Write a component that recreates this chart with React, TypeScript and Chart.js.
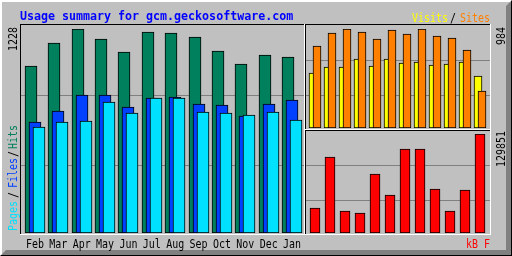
import { useEffect, useRef } from "react";
import { Chart, registerables } from "chart.js";

Chart.register(...registerables);

// ---------------- data ----------------
const months = ["Feb", "Mar", "Apr", "May", "Jun", "Jul", "Aug", "Sep", "Oct", "Nov", "Dec", "Jan"];
const hits = [1005, 1144, 1228, 1168, 1090, 1210, 1204, 1180, 1096, 1017, 1071, 1059];
const files = [668, 734, 831, 831, 758, 813, 819, 777, 771, 704, 777, 801];
const pages = [638, 668, 674, 789, 722, 813, 813, 728, 722, 710, 728, 680];
const visits = [547, 606, 606, 686, 616, 686, 646, 656, 626, 636, 656, 517];
const sites = [815, 944, 984, 954, 885, 974, 934, 984, 915, 895, 775, 368];
const kbytes = [32790, 99682, 28855, 26232, 77385, 49841, 110174, 110174, 57710, 28855, 56399, 129851];

const titleText = "Usage summary for gcm.geckosoftware.com";
const legendLeft = ["Pages", "/", "Files", "/", "Hits"];
const legendTop = ["Visits", "/", "Sites"];
const legendBottom = "kB F";

// ---------------- styles / layout ----------------
const W = 512;
const H = 256;
const GREY = "#c0c0c0";
const DKGREY = "#808080";
const HIT_C = "#00805c";
const FILE_C = "#0040ff";
const PAGE_C = "#00e0ff";
const VISIT_C = "#ffff00";
const SITE_C = "#ff8000";
const KB_C = "#ff0000";
const TITLE_C = "#0000ff";

const MAIN_AREA = { left: 23.32, right: 303.68, top: 29, bottom: 233 };
const SIDE_X = { left: 307.5, right: 487.5 };
const VS_Y = { top: 29, bottom: 128 };
const KB_Y = { top: 134, bottom: 233 };

const MAIN_SLOT = (MAIN_AREA.right - MAIN_AREA.left) / 12;
const SIDE_SLOT = (SIDE_X.right - SIDE_X.left) / 12;

const MONO = "'DejaVu Sans Mono', monospace";
const SMALL_FONT = `12px ${MONO}`;
const BOLD_FONT = `bold 12px ${MONO}`;
const SMALL_SX = 6 / 7.22;
const BOLD_SX = 7 / 7.22;

function txt(
  ctx: CanvasRenderingContext2D,
  s: string,
  x: number,
  y: number,
  color: string,
  opts: { font?: string; sx?: number; align?: CanvasTextAlign; up?: boolean } = {}
) {
  ctx.save();
  ctx.translate(x, y);
  if (opts.up) ctx.rotate(-Math.PI / 2);
  ctx.scale(opts.sx ?? SMALL_SX, 1);
  ctx.font = opts.font ?? SMALL_FONT;
  ctx.fillStyle = color;
  ctx.textAlign = opts.align ?? "left";
  ctx.textBaseline = "alphabetic";
  ctx.fillText(s, 0, 0);
  ctx.restore();
}

function sunken(ctx: CanvasRenderingContext2D, x0: number, y0: number, x1: number, y1: number) {
  ctx.fillStyle = "#000";
  ctx.fillRect(x0, y0, x1 - x0, 1);
  ctx.fillRect(x0, y0, 1, y1 - y0);
  ctx.fillStyle = "#fff";
  ctx.fillRect(x0, y1, x1 - x0 + 1, 1);
  ctx.fillRect(x1, y0, 1, y1 - y0 + 1);
}

const framePlugin = {
  id: "frame",
  beforeDraw(chart: any) {
    const ctx: CanvasRenderingContext2D = chart.ctx;
    ctx.save();
    ctx.fillStyle = GREY;
    ctx.fillRect(0, 0, W, H);
    // outer bevel
    ctx.fillStyle = DKGREY;
    ctx.beginPath();
    ctx.moveTo(W, 0);
    ctx.lineTo(W, H);
    ctx.lineTo(0, H);
    ctx.lineTo(6, H - 6);
    ctx.lineTo(W - 6, H - 6);
    ctx.lineTo(W - 6, 6);
    ctx.closePath();
    ctx.fill();
    ctx.fillStyle = "#000";
    ctx.fillRect(W - 1, 0, 1, H);
    ctx.fillRect(0, H - 1, W, 1);
    ctx.fillStyle = "#fff";
    ctx.beginPath();
    ctx.moveTo(0, 0);
    ctx.lineTo(W, 0);
    ctx.lineTo(W - 2, 2);
    ctx.lineTo(2, 2);
    ctx.lineTo(2, H - 2);
    ctx.lineTo(0, H);
    ctx.closePath();
    ctx.fill();

    // panels
    sunken(ctx, 20, 24, 304, 234);
    sunken(ctx, 305, 24, 490, 129);
    sunken(ctx, 305, 130, 490, 234);

    // grid lines
    ctx.fillStyle = DKGREY;
    ctx.fillRect(21, 95, 283, 1);
    ctx.fillRect(21, 165, 283, 1);
    ctx.fillRect(306, 60, 184, 1);
    ctx.fillRect(306, 95, 184, 1);
    ctx.fillRect(306, 165, 184, 1);
    ctx.fillRect(306, 200, 184, 1);

    // title
    txt(ctx, titleText, 20, 20, TITLE_C, { font: BOLD_FONT, sx: BOLD_SX });

    // top-right legend
    txt(ctx, legendTop[0], 412, 22, VISIT_C);
    txt(ctx, legendTop[1], 450, 22, "#000");
    txt(ctx, legendTop[2], 460, 22, SITE_C);

    // left legend (vertical)
    const leftPos = [231, 198, 188, 157, 149];
    const leftCol = [PAGE_C, "#000", FILE_C, "#000", HIT_C];
    legendLeft.forEach((s, i) => txt(ctx, s, 17, leftPos[i], leftCol[i], { up: true }));

    // max values
    const maxMain = String(Math.max(...hits, ...files, ...pages));
    const maxVS = String(Math.max(...visits, ...sites));
    const maxKB = String(Math.max(...kbytes));
    txt(ctx, maxMain, 17, 27 + maxMain.length * 6, "#000", { up: true });
    txt(ctx, maxVS, 505, 27 + maxVS.length * 6, "#000", { up: true });
    txt(ctx, maxKB, 505, 131 + maxKB.length * 6, "#000", { up: true });

    // month labels
    const xs = chart.scales.x;
    months.forEach((m, i) => {
      txt(ctx, m, xs.getPixelForValue(i), 247.5, "#000", { align: "center" });
    });

    // kB F
    txt(ctx, legendBottom, 490, 247.5, KB_C, { align: "right" });
    ctx.restore();
  },
};

const snapPlugin = {
  id: "snap",
  beforeDatasetsDraw(chart: any) {
    chart.data.datasets.forEach((_: any, i: number) => {
      const meta = chart.getDatasetMeta(i);
      meta.data.forEach((el: any) => {
        const left = Math.round(el.x - el.width / 2);
        el.x = left + el.width / 2;
        el.y = Math.round(el.y);
        el.base = Math.round(el.base);
      });
    });
  },
};

function barSet(label: string, values: number[], color: string, shift: number, width: number, order: number) {
  return {
    label,
    data: values.map((v, i) => ({ x: i + shift, y: v })),
    backgroundColor: color,
    borderColor: "#000",
    borderWidth: 1,
    borderSkipped: false as const,
    grouped: false,
    barThickness: width,
    order,
  };
}

function makeConfig(
  datasets: any[],
  area: { left: number; right: number; top: number; bottom: number },
  yMax: number,
  plugins: any[]
) {
  return {
    type: "bar" as const,
    data: { datasets },
    options: {
      responsive: false,
      animation: false as const,
      devicePixelRatio: 1,
      parsing: { xAxisKey: "x", yAxisKey: "y" },
      layout: {
        padding: { left: area.left, right: W - area.right, top: area.top, bottom: H - area.bottom },
      },
      plugins: { legend: { display: false }, tooltip: { enabled: false } },
      scales: {
        x: { type: "linear" as const, min: -0.5, max: 11.5, offset: false, display: false },
        y: { type: "linear" as const, min: 0, max: yMax, display: false },
      },
    },
    plugins,
  };
}

export default function App() {
  const mainRef = useRef<HTMLCanvasElement>(null);
  const vsRef = useRef<HTMLCanvasElement>(null);
  const kbRef = useRef<HTMLCanvasElement>(null);

  useEffect(() => {
    document.body.style.margin = "0";
    const mainShift = 4 / MAIN_SLOT;
    const sideShift = 2 / SIDE_SLOT;

    const mainChart = new Chart(
      mainRef.current!,
      makeConfig(
        [
          barSet("Hits", hits, HIT_C, -mainShift, 12, 3),
          barSet("Files", files, FILE_C, 0, 12, 2),
          barSet("Pages", pages, PAGE_C, mainShift, 12, 1),
        ],
        MAIN_AREA,
        Math.max(...hits, ...files, ...pages),
        [framePlugin, snapPlugin]
      ) as any
    );

    const vsChart = new Chart(
      vsRef.current!,
      makeConfig(
        [
          barSet("Visits", visits, VISIT_C, -sideShift, 8, 2),
          barSet("Sites", sites, SITE_C, sideShift, 8, 1),
        ],
        { left: SIDE_X.left, right: SIDE_X.right, top: VS_Y.top, bottom: VS_Y.bottom },
        Math.max(...visits, ...sites),
        [snapPlugin]
      ) as any
    );

    const kbChart = new Chart(
      kbRef.current!,
      makeConfig(
        [barSet("kB F", kbytes, KB_C, 0, 10, 1)],
        { left: SIDE_X.left, right: SIDE_X.right, top: KB_Y.top, bottom: KB_Y.bottom },
        Math.max(...kbytes),
        [snapPlugin]
      ) as any
    );

    return () => {
      mainChart.destroy();
      vsChart.destroy();
      kbChart.destroy();
    };
  }, []);

  const cs: React.CSSProperties = { position: "absolute", left: 0, top: 0 };
  return (
    <div style={{ position: "relative", width: W, height: H }}>
      <canvas ref={mainRef} width={W} height={H} style={cs} />
      <canvas ref={vsRef} width={W} height={H} style={cs} />
      <canvas ref={kbRef} width={W} height={H} style={cs} />
    </div>
  );
}
